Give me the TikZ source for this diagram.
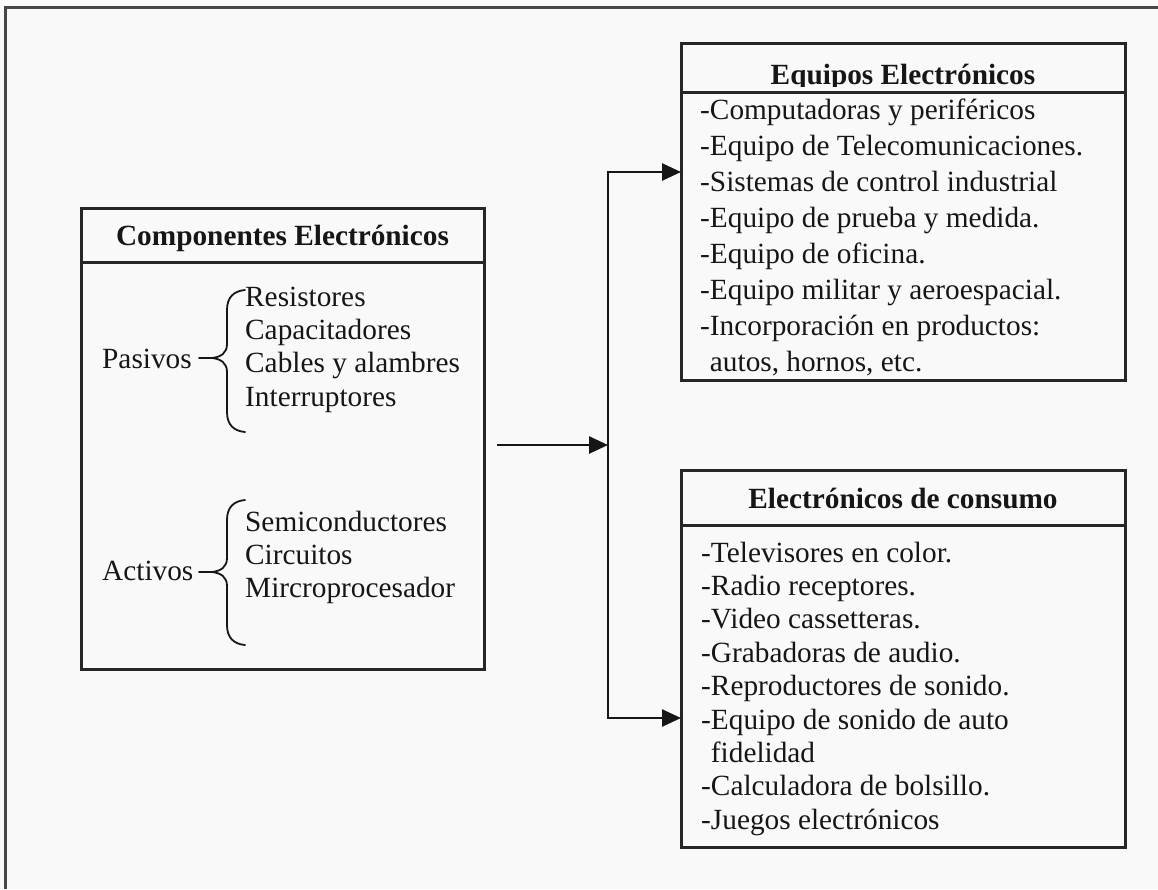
\documentclass[tikz,border=0pt]{standalone}
\usepackage{fontspec}
\setmainfont{Liberation Serif}
\usetikzlibrary{arrows.meta}

\definecolor{ink}{RGB}{22,22,22}
\definecolor{rule}{RGB}{38,38,38}
\definecolor{framegray}{RGB}{70,70,70}
\definecolor{paper}{RGB}{249,249,249}

\newcommand\itemfont{\fontsize{29.3pt}{33.4pt}\selectfont}
\newcommand\hdrfont{\bfseries\fontsize{29.3pt}{33.4pt}\selectfont}

% curly brace opening to the right: top y, tip y, bottom y
\newcommand\leftbrace[3]{%
  \draw[bracestroke] (245,#1) .. controls (234,#1+1) and (227,#1+7) .. (227,#1+20)
    -- (227,#2-14) .. controls (227,#2-5) and (221,#2-1) .. (212,#2)
    .. controls (221,#2+1) and (227,#2+5) .. (227,#2+14)
    -- (227,#3-20) .. controls (227,#3-7) and (234,#3-1) .. (245,#3);
  \draw[bracestroke] (199,#2) -- (212,#2);
}

\tikzset{
  boxframe/.style={draw=rule, line width=3pt, inner sep=0pt, outer sep=0pt},
  divider/.style={draw=rule, line width=3pt},
  hdr/.style={font=\hdrfont, text=ink, inner sep=0pt, anchor=base},
  item/.style={font=\itemfont, text=ink, inner sep=0pt, anchor=base west},
  link/.style={draw=ink, line width=2.6pt, line join=miter},
  tip/.style={link, -{Triangle[length=19pt,width=17pt]}},
  bracestroke/.style={draw=ink, line width=1.8pt, line cap=round, line join=round},
  frame/.style={draw=framegray, line width=3pt}
}

\begin{document}
\begin{tikzpicture}[x=1pt, y=-1pt]
  \fill[paper] (0,0) rectangle (1158,889);
  \useasboundingbox (0,0) rectangle (1158,889);

  % outer frame (top and left edges)
  \draw[frame] (5,889) -- (5,7) -- (1158,7);

  % boxes
  \node[boxframe, minimum width=403pt, minimum height=461pt] (comp) at (282.5,438.5) {};
  \node[boxframe, minimum width=444pt, minimum height=337pt] (equipos) at (903,211.5) {};
  \node[boxframe, minimum width=444pt, minimum height=377pt] (consumo) at (903,658.5) {};

  % header dividers
  \draw[divider] (81,262) -- (484,262);
  \draw[divider] (681,92) -- (1125,92);
  \draw[divider] (681,525) -- (1125,525);

  % headers
  \node[hdr] (compTitle) at (282.5,245) {Componentes Electrónicos};
  \begin{scope}
    \clip (681,43) rectangle (1125,86);
    \node[hdr] (equiposTitle) at (903,84) {Equipos Electrónicos};
  \end{scope}
  \node[hdr] (consumoTitle) at (903,508) {Electrónicos de consumo};

  % passive and active components
  \node[item] (pasivos) at (102,368) {Pasivos};
  \leftbrace{290}{358}{432}
  \foreach \t [count=\i from 0] in {Resistores, Capacitadores, Cables y alambres, Interruptores}
    \node[item] (pas\i) at (245,306+33.4*\i) {\t};

  \node[item] (activos) at (102,580) {Activos};
  \leftbrace{500}{572}{645}
  \foreach \t [count=\i from 0] in {Semiconductores, Circuitos, Mircroprocesador}
    \node[item] (act\i) at (245,531+33.4*\i) {\t};

  % electronic equipment list
  \foreach \t [count=\i from 0] in {
      -Computadoras y periféricos,
      -Equipo de Telecomunicaciones.,
      -Sistemas de control industrial,
      -Equipo de prueba y medida.,
      -Equipo de oficina.,
      -Equipo militar y aeroespacial.,
      -Incorporación en productos:,
      {\hphantom{-}autos, hornos, etc.}}
    \node[item] (eq\i) at (700,119+36*\i) {\t};

  % consumer electronics list
  \foreach \t [count=\i from 0] in {
      -Televisores en color.,
      -Radio receptores.,
      -Video cassetteras.,
      -Grabadoras de audio.,
      -Reproductores de sonido.,
      -Equipo de sonido de auto,
      \hphantom{-}fidelidad,
      -Calculadora de bolsillo.,
      -Juegos electrónicos}
    \node[item] (co\i) at (701,562+33.4*\i) {\t};

  % connectors
  \coordinate (src) at (497,445);
  \coordinate (fork) at (608,445);
  \coordinate (forkT) at (608,172);
  \coordinate (forkB) at (608,718);
  \draw[tip] (src) -- (fork);
  \draw[tip] (fork) -- (forkT) -- (equipos.west |- forkT);
  \draw[tip] (fork) -- (forkB) -- (consumo.west |- forkB);
\end{tikzpicture}
\end{document}
